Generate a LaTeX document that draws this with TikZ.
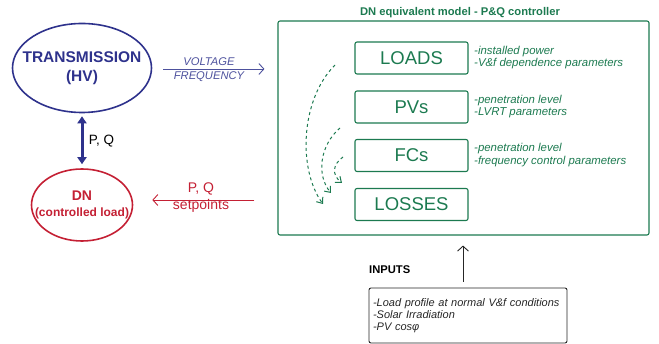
\documentclass[tikz,border=0pt]{standalone}
\usepackage{fontspec}
\setmainfont{Liberation Sans}
\usetikzlibrary{shapes.geometric,arrows.meta}

\definecolor{hvblue}{RGB}{46,50,140}
\definecolor{dnred}{RGB}{196,32,52}
\definecolor{mgreen}{RGB}{28,122,80}

\tikzset{
	oval/.style={ellipse, line width=1.6pt, inner sep=0pt},
	blockbox/.style={draw=mgreen, line width=1.1pt, rounded corners=2pt, minimum width=113pt, minimum height=32pt, inner sep=0pt, text=mgreen, font=\fontsize{18.5}{18.5}\selectfont},
	notes/.style={text=mgreen, font=\itshape\fontsize{11.4}{12.8}\selectfont, align=left, anchor=west, inner sep=0pt},
	dotarrow/.style={mgreen, dashed, line width=1pt, -{Straight Barb[length=5pt,width=8pt]}}
}

\begin{document}
\begin{tikzpicture}[x=1pt,y=-1pt]
	\useasboundingbox (0,0) rectangle (659,344);

	\node[oval, draw=hvblue, minimum width=139pt, minimum height=89pt] (trans) at (82,68) {};
	\node[text=hvblue, align=center, font=\bfseries\fontsize{15.5}{18.5}\selectfont] (transtext) at (trans) {TRANSMISSION\\(HV)};
	\node[oval, draw=dnred, minimum width=101pt, minimum height=72pt] (dn) at (82,205) {};
	\node[text=dnred, align=center, font=\bfseries\fontsize{12}{15.5}\selectfont] (dntext) at (dn) {\fontsize{14}{15.5}\selectfont DN\\(controlled load)};

	\draw [hvblue, line width=3pt, {Triangle[length=7pt,width=9pt]}-{Triangle[length=7pt,width=9pt]}, shorten <=3pt, shorten >=4pt] (trans.south) -- (dn.north) node[midway, right=2pt, text=black, font=\fontsize{13.5}{13.5}\selectfont]{P, Q};

	% DN equivalent model
	\node[draw=mgreen, line width=1.1pt, rounded corners=2pt, minimum width=371pt, minimum height=214pt, inner sep=0pt] (model) at (463.5,128) {};
	\node[text=mgreen, font=\bfseries\fontsize{11.2}{11.2}\selectfont] (title) at (460,13) {DN equivalent model - P\&Q controller};

	\node[blockbox] (loads) at (411.5,58) {LOADS};
	\node[blockbox] (pvs) at (411.5,107) {PVs};
	\node[blockbox] (fcs) at (411.5,155.5) {FCs};
	\node[blockbox] (losses) at (411.5,204.5) {LOSSES};

	\node[notes] (loadsnote) at (474,57.5) {-installed power\\-V\&f dependence parameters};
	\node[notes] (pvsnote) at (474,106.5) {-penetration level\\-LVRT parameters};
	\node[notes] (fcsnote) at (474,155) {-penetration level\\-frequency control parameters};

	\coordinate (c1) at (335,65);
	\coordinate (c2) at (340,128);
	\coordinate (c3) at (343,157);
	\coordinate (d1) at (323,204);
	\coordinate (d2) at (331,193);
	\coordinate (d3) at (342,183);
	\draw [dotarrow] (c1) .. controls (300,100) and (298,170) .. (d1);
	\draw [dotarrow] (c2) .. controls (320,145) and (316,175) .. (d2);
	\draw [dotarrow] (c3) .. controls (332,165) and (332,175) .. (d3);

	% signals between the two sides
	\draw [hvblue!85, line width=0.9pt, -{Straight Barb[length=5pt,width=11pt]}, shorten <=11pt, shorten >=13pt] ([yshift=-1pt]trans.east) -- ([yshift=-1pt]trans.east -| model.west);
	\node[text=hvblue!85, font=\itshape\fontsize{11.2}{14}\selectfont, align=center] (vf) at (209,70) {VOLTAGE\\FREQUENCY};

	\draw [dnred, line width=0.9pt, -{Straight Barb[length=5pt,width=11pt]}, shorten <=23pt, shorten >=19pt] ([yshift=5pt]dn.east -| model.west) -- ([yshift=5pt]dn.east);
	\node[text=dnred, font=\fontsize{14}{17}\selectfont, align=center] (pq) at (201,198) {P, Q\\setpoints};

	% inputs
	\node[draw=black!85, line width=0.9pt, rounded corners=2pt, minimum width=198pt, minimum height=55pt, inner sep=4pt, text width=190pt, align=left, font=\itshape\fontsize{11}{12.3}\selectfont, text=black!85] (inputs) at (468,315.5) {-Load profile at normal V\&f conditions\\-Solar Irradiation\\-PV cosφ};
	\node[anchor=west, font=\bfseries\fontsize{11.2}{11.2}\selectfont, inner sep=0pt] (intitle) at (369,270) {INPUTS};
	\draw [black!85, line width=0.9pt, -{Straight Barb[length=5pt,width=11pt]}, shorten <=6pt, shorten >=10pt] ([xshift=-5pt]inputs.north) -- ([xshift=-5pt]inputs.north |- model.south);
\end{tikzpicture}
\end{document}
